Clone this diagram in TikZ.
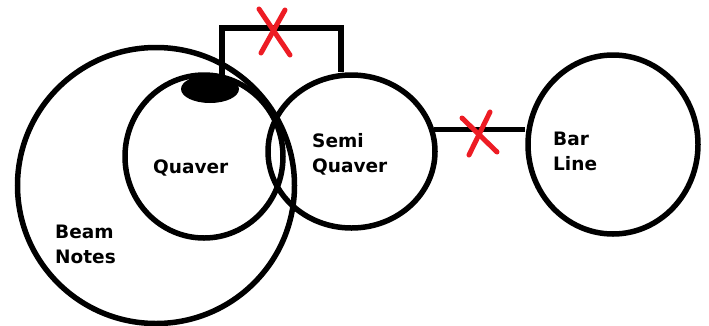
\documentclass[tikz,border=0pt]{standalone}
\usepackage{fontspec}
\newfontfamily\lblfont{DejaVu Sans}
\usetikzlibrary{shapes.geometric}
\definecolor{xred}{RGB}{237,28,36}
\tikzset{
  ring/.style={ellipse, draw=black, line width=5.5pt, inner sep=0pt},
  lbl/.style={font=\lblfont\bfseries\fontsize{18.5}{25}\selectfont, align=left, inner sep=0pt, anchor=base west},
  wire/.style={draw=black, line width=5.5pt},
  cross/.style={draw=xred, line width=5pt, line cap=round}
}
\begin{document}
\begin{tikzpicture}[x=1pt,y=-1pt]
\useasboundingbox (0,0) rectangle (709,325);
\node[ring, minimum width=277pt, minimum height=276pt] (beam) at (156,185.5) {};
\node[ring, minimum width=158pt, minimum height=163pt] (quaver) at (204,156.5) {};
\node[ring, minimum width=167pt, minimum height=153pt] (semi) at (351.5,151.5) {};
\node[ring, minimum width=170pt, minimum height=179pt] (bar) at (613,144.5) {};
\node[ellipse, fill=black, minimum width=58pt, minimum height=28pt, inner sep=0pt] (blob) at (210,89) {};
\coordinate (b1) at (222,28);
\coordinate (b2) at (341,28);
\draw[wire, line join=miter] (b1 |- blob.north) -- (b1) -- (b2) -- (b2 |- semi.north);
\draw[wire] (semi.15) -- (bar.west |- semi.15);
\node[lbl] (tq) at (153,173) {Quaver};
\node[lbl] (ts) at (312,172) {Semi\\Quaver};
\node[lbl] (tb) at (553,170) {Bar\\Line};
\node[lbl] (tn) at (55,263) {Beam\\Notes};
\coordinate (x1a) at (259,9);
\coordinate (x1b) at (290,55);
\coordinate (x1c) at (285,10);
\coordinate (x1d) at (261,53);
\draw[cross] (x1a) -- (x1b);
\draw[cross] (x1c) -- (x1d);
\coordinate (x2a) at (490,112);
\coordinate (x2b) at (469,155);
\coordinate (x2c) at (462,118);
\coordinate (x2d) at (497,152);
\draw[cross] (x2a) -- (x2b);
\draw[cross] (x2c) -- (x2d);
\end{tikzpicture}
\end{document}
